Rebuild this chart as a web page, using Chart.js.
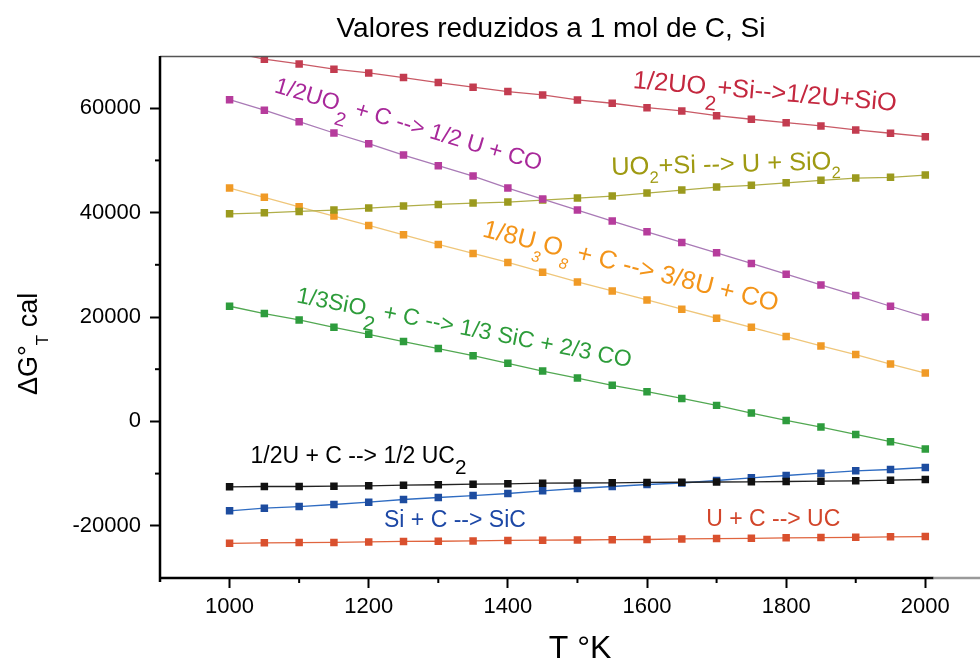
<!DOCTYPE html>
<html lang="pt">
<head>
<meta charset="utf-8">
<title>Valores reduzidos a 1 mol de C, Si</title>
<script src="https://cdn.jsdelivr.net/npm/chart.js@4.4.1/dist/chart.umd.min.js"></script>
<style>
html, body { margin:0; padding:0; background:#fff; }
#caixa { width:980px; height:662px; position:relative; }
</style>
</head>
<body>
<div id="caixa"><canvas id="grafico"></canvas></div>
<script>

// temperaturas (K)
const temperaturas = [1000,1050,1100,1150,1200,1250,1300,1350,1400,1450,1500,1550,1600,1650,1700,1750,1800,1850,1900,1950,2000];

// valores (cal)
const uo2SiSio = [70800,69390,68490,67470,66760,65860,64900,64020,63180,62540,61580,60950,60100,59470,58570,57880,57230,56600,55830,55200,54540];
const uo2CCo = [61640,59610,57420,55250,53200,51030,48980,47000,44700,42590,40480,38370,36320,34280,32290,30250,28200,26150,24120,22060,20010];
const uo2SiSio2 = [39770,39960,40230,40480,40860,41250,41570,41820,42010,42400,42780,43160,43740,44310,44890,45220,45710,46180,46620,46760,47190];
const u3o8CCo = [44700,42920,41110,39330,37540,35740,33900,32170,30450,28590,26720,25000,23270,21490,19760,18030,16250,14450,12800,10990,9270];
const sio2CSic = [22060,20660,19430,18030,16690,15290,13950,12600,11130,9650,8310,6910,5700,4410,3070,1590,190,-1090,-2490,-3890,-5310];
const uCUc2 = [-12530,-12470,-12470,-12410,-12340,-12220,-12140,-12030,-11950,-11840,-11800,-11760,-11700,-11660,-11610,-11570,-11510,-11450,-11380,-11260,-11130];
const siCSic = [-17130,-16630,-16310,-15920,-15480,-14960,-14580,-14200,-13810,-13300,-12850,-12470,-12090,-11800,-11320,-10800,-10360,-9920,-9460,-9210,-8830];
const uCUc = [-23350,-23270,-23210,-23180,-23080,-23000,-22960,-22890,-22810,-22750,-22720,-22660,-22620,-22520,-22450,-22390,-22310,-22250,-22200,-22120,-22060];

// nomes das reacoes (_{..} = subscrito)
const reacoes = [
    "1/2UO_{2}+Si-->1/2U+SiO",
    "1/2UO_{2} + C --> 1/2 U + CO",
    "UO_{2}+Si --> U + SiO_{2}",
    "1/8U_{3}O_{8} + C --> 3/8U + CO",
    "1/3SiO_{2} + C --> 1/3 SiC + 2/3 CO",
    "1/2U + C --> 1/2 UC_{2}",
    "Si + C --> SiC",
    "U + C --> UC"
];

// ticks
const xTicks = [1000,1200,1400,1600,1800,2000];
const xTicksMenores = [1100,1300,1500,1700,1900];
const yTicks = [-20000,0,20000,40000,60000];
const yTicksMenores = [-10000,10000,30000,50000];

const series = [uo2SiSio, uo2CCo, uo2SiSio2, u3o8CCo, sio2CSic, uCUc2, siCSic, uCUc];

const coresPonto = ["#c33c50","#b63c9c","#9b9a1e","#f09a26","#2e9c3d","#111111","#1d4c9f","#d9502e"];
const coresLinha = ["#c95a66","#a97ab6","#b0ae48","#efc67a","#52a852","#222222","#2f6cc2","#e0643e"];

const fonte = '"Liberation Sans", Arial, sans-serif';

function partesDoTexto(texto){

    const partes = [];
    const re = /_\{([^}]*)\}/g;
    let ultimo = 0, m;

    while((m = re.exec(texto))){
        if(m.index > ultimo){
            partes.push({t: texto.slice(ultimo, m.index), sub: false});
        }
        partes.push({t: m[1], sub: true});
        ultimo = re.lastIndex;
    }

    if(ultimo < texto.length){
        partes.push({t: texto.slice(ultimo), sub: false});
    }

    return partes;
}

function escreverRotulo(ctx, r, texto, x, y){

    ctx.save();
    ctx.translate(x, y);
    ctx.rotate(r.angulo * Math.PI / 180);
    ctx.fillStyle = r.cor;
    ctx.textAlign = "left";
    ctx.textBaseline = "alphabetic";

    let cx = 0;

    partesDoTexto(texto).forEach(p => {
        const tam = p.sub ? r.tamanho * r.sub : r.tamanho;
        ctx.font = (p.sub && r.italico ? "italic " : "") + tam + "px " + fonte;
        const dy = p.sub ? r.tamanho * r.queda : 0;
        ctx.fillText(p.t, cx, dy);
        cx += ctx.measureText(p.t).width;
    });

    ctx.restore();
}

const desenhos = {

    id: "desenhos",

    afterDraw(chart, args, opts){

        const ctx = chart.ctx;
        const a = chart.chartArea;
        const sx = chart.scales.x;
        const sy = chart.scales.y;
        const fim = chart.width;

        ctx.save();

        // borda de cima
        ctx.strokeStyle = "#555";
        ctx.lineWidth = 1.5;
        ctx.beginPath();
        ctx.moveTo(a.left, a.top + 0.5);
        ctx.lineTo(fim, a.top + 0.5);
        ctx.stroke();

        // eixo x
        ctx.lineWidth = 2.5;
        ctx.strokeStyle = "#000";
        ctx.beginPath();
        ctx.moveTo(a.left, a.bottom);
        ctx.lineTo(sx.getPixelForValue(2012), a.bottom);
        ctx.stroke();
        ctx.strokeStyle = "#9a9a9a";
        ctx.beginPath();
        ctx.moveTo(sx.getPixelForValue(2012), a.bottom);
        ctx.lineTo(fim, a.bottom);
        ctx.stroke();

        // eixo y
        ctx.strokeStyle = "#000";
        ctx.beginPath();
        ctx.moveTo(a.left, a.top);
        ctx.lineTo(a.left, a.bottom + 4);
        ctx.stroke();

        // ticks menores
        ctx.lineWidth = 2;
        xTicksMenores.forEach(v => {
            const px = sx.getPixelForValue(v);
            ctx.beginPath();
            ctx.moveTo(px, a.bottom);
            ctx.lineTo(px, a.bottom + 5);
            ctx.stroke();
        });
        yTicksMenores.forEach(v => {
            const py = sy.getPixelForValue(v);
            ctx.beginPath();
            ctx.moveTo(a.left, py);
            ctx.lineTo(a.left - 5, py);
            ctx.stroke();
        });

        // titulo
        ctx.fillStyle = "#000";
        ctx.textAlign = "center";
        ctx.textBaseline = "alphabetic";
        ctx.font = "28px " + fonte;
        ctx.fillText(opts.titulo, 551, 37);

        // titulo eixo x
        ctx.font = "32px " + fonte;
        ctx.fillText(opts.tituloX, 580, 658);

        // titulo eixo y
        ctx.save();
        ctx.translate(37, 395);
        ctx.rotate(-Math.PI / 2);
        ctx.textAlign = "left";
        let cx = 0;
        ctx.font = "27px " + fonte;
        ctx.fillText("\u0394G\u00b0", cx, 0);
        cx += ctx.measureText("\u0394G\u00b0").width;
        ctx.font = "17px " + fonte;
        ctx.fillText("T", cx, 11);
        cx += ctx.measureText("T").width;
        ctx.font = "27px " + fonte;
        ctx.fillText(" cal", cx, 0);
        ctx.restore();

        // rotulos das reacoes
        opts.rotulos.forEach((r, i) => {
            escreverRotulo(
                ctx,
                r,
                reacoes[i],
                sx.getPixelForValue(r.x),
                sy.getPixelForValue(r.y)
            );
        });

        ctx.restore();
    }
};

new Chart(

    document.getElementById("grafico"),

    {
        type: "line",

        data: {
            datasets: series.map((s, i) => ({
                label: reacoes[i].replace(/_\{([^}]*)\}/g, "$1"),
                data: s.map((v, j) => ({x: temperaturas[j], y: v})),
                borderColor: coresLinha[i],
                borderWidth: 1.3,
                backgroundColor: coresPonto[i],
                pointStyle: "rect",
                pointRadius: 5.3,
                pointBorderWidth: 0,
                pointBackgroundColor: coresPonto[i],
                tension: 0,
                fill: false
            }))
        },

        options: {

            responsive: true,
            maintainAspectRatio: false,
            animation: false,

            layout: {
                padding: {top: 56, right: 0, left: 0, bottom: 0}
            },

            scales: {

                x: {
                    type: "linear",
                    min: 900,
                    max: 2071,
                    afterBuildTicks: s => { s.ticks = xTicks.map(v => ({value: v})); },
                    afterFit: s => { s.height = 84; },
                    border: {display: false},
                    grid: {
                        display: true,
                        drawOnChartArea: false,
                        drawTicks: true,
                        tickLength: 10,
                        tickWidth: 2,
                        tickColor: "#000"
                    },
                    ticks: {
                        autoSkip: false,
                        maxRotation: 0,
                        padding: 6,
                        color: "#000",
                        font: {family: fonte, size: 22},
                        callback: v => String(v)
                    }
                },

                y: {
                    min: -30000,
                    max: 70000,
                    afterBuildTicks: s => { s.ticks = yTicks.map(v => ({value: v})); },
                    afterFit: s => { s.width = 160; },
                    border: {display: false},
                    grid: {
                        display: true,
                        drawOnChartArea: false,
                        drawTicks: true,
                        tickLength: 10,
                        tickWidth: 2,
                        tickColor: "#000"
                    },
                    ticks: {
                        padding: 9,
                        color: "#000",
                        font: {family: fonte, size: 22},
                        callback: v => String(v)
                    }
                }
            },

            plugins: {

                legend: {display: false},
                tooltip: {enabled: false},

                desenhos: {
                    titulo: "Valores reduzidos a 1 mol de C, Si",
                    tituloX: "T \u00b0K",
                    rotulos: [
                        {x: 1579, y: 63890, angulo: 5, tamanho: 25.4, sub: 0.8, queda: 0.6, cor: "#c4283f"},
                        {x: 1063, y: 63120, angulo: 16.5, tamanho: 23, sub: 0.85, queda: 0.6, cor: "#a8289a"},
                        {x: 1549, y: 47195, angulo: -1.5, tamanho: 25.4, sub: 0.65, queda: 0.35, cor: "#9f9a12"},
                        {x: 1362, y: 35490, angulo: 14.3, tamanho: 25.4, sub: 0.6, queda: 0.45, italico: true, cor: "#f39419"},
                        {x: 1095, y: 22830, angulo: 11, tamanho: 23, sub: 0.9, queda: 0.6, cor: "#2d9c3a"},
                        {x: 1030, y: -8058, angulo: 0, tamanho: 23, sub: 0.9, queda: 0.45, cor: "#000000"},
                        {x: 1222, y: -20144, angulo: 0, tamanho: 23, sub: 0.9, queda: 0.45, cor: "#1d48a6"},
                        {x: 1685, y: -19952, angulo: 0, tamanho: 23, sub: 0.9, queda: 0.45, cor: "#d2452a"}
                    ]
                }
            }
        },

        plugins: [desenhos]
    }

);

</script>
</body>
</html>
